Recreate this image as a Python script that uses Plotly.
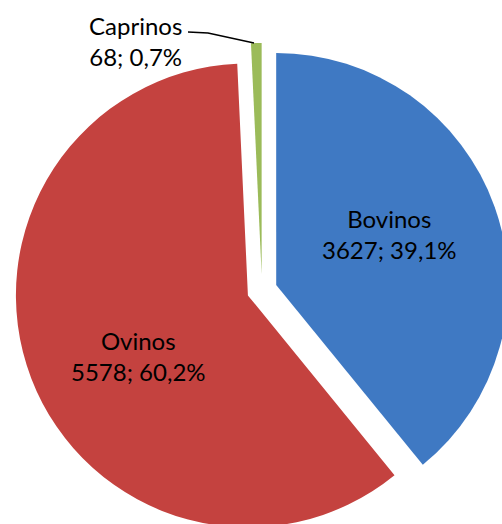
import plotly.graph_objects as go

# Data
categories = ["Bovinos", "Ovinos", "Caprinos"]
values = [3627, 5578, 68]
colors = ["#3f79c3", "#c4423f", "#9bbb59"]

total = sum(values)
value_pct = [f"{v}; {v / total * 100:.1f}%".replace(".", ",") for v in values]
label_texts = [f"{c}<br>{t}" for c, t in zip(categories, value_pct)]

# Figure geometry (pixels) — page larger than the window so the pie is clipped like the reference
W, H = 510, 540
R = 232
PULL = 0.065
CX, CY = 262, 290
half = R * (1 + PULL)

# Data-label anchor positions (pixels)
label_pos = [(389, 234), (138, 356), (135, 41)]

fig = go.Figure()
fig.add_trace(go.Pie(
    labels=categories,
    values=values,
    text=value_pct,
    sort=False,
    direction="clockwise",
    rotation=0,
    pull=[PULL] * len(values),
    marker=dict(colors=colors, line=dict(width=0)),
    textinfo="none",
    showlegend=False,
    hoverinfo="label+value+percent",
    domain=dict(x=[(CX - half) / W, (CX + half) / W],
                y=[1 - (CY + half) / H, 1 - (CY - half) / H]),
))

for txt, (px, py) in zip(label_texts, label_pos):
    fig.add_annotation(
        x=px / W, y=1 - py / H, xref="paper", yref="paper",
        text=txt, showarrow=False, xanchor="center", yanchor="middle", align="center",
        font=dict(family="Lato", size=24, color="#000000"),
    )

# Leader line for the Caprinos label
fig.add_shape(
    type="path", xref="paper", yref="paper",
    path=f"M {188 / W} {1 - 32 / H} L {208 / W} {1 - 33 / H} L {254 / W} {1 - 43 / H}",
    line=dict(color="#000000", width=1.5),
)

fig.update_layout(
    width=W, height=H,
    margin=dict(l=0, r=0, t=0, b=0),
    paper_bgcolor="#ffffff",
    plot_bgcolor="#ffffff",
)

fig.write_html(
    "out.html",
    config={"displayModeBar": False},
    post_script="document.body.style.margin='0';document.body.style.overflow='hidden';"
                "document.documentElement.style.overflow='hidden';",
)
